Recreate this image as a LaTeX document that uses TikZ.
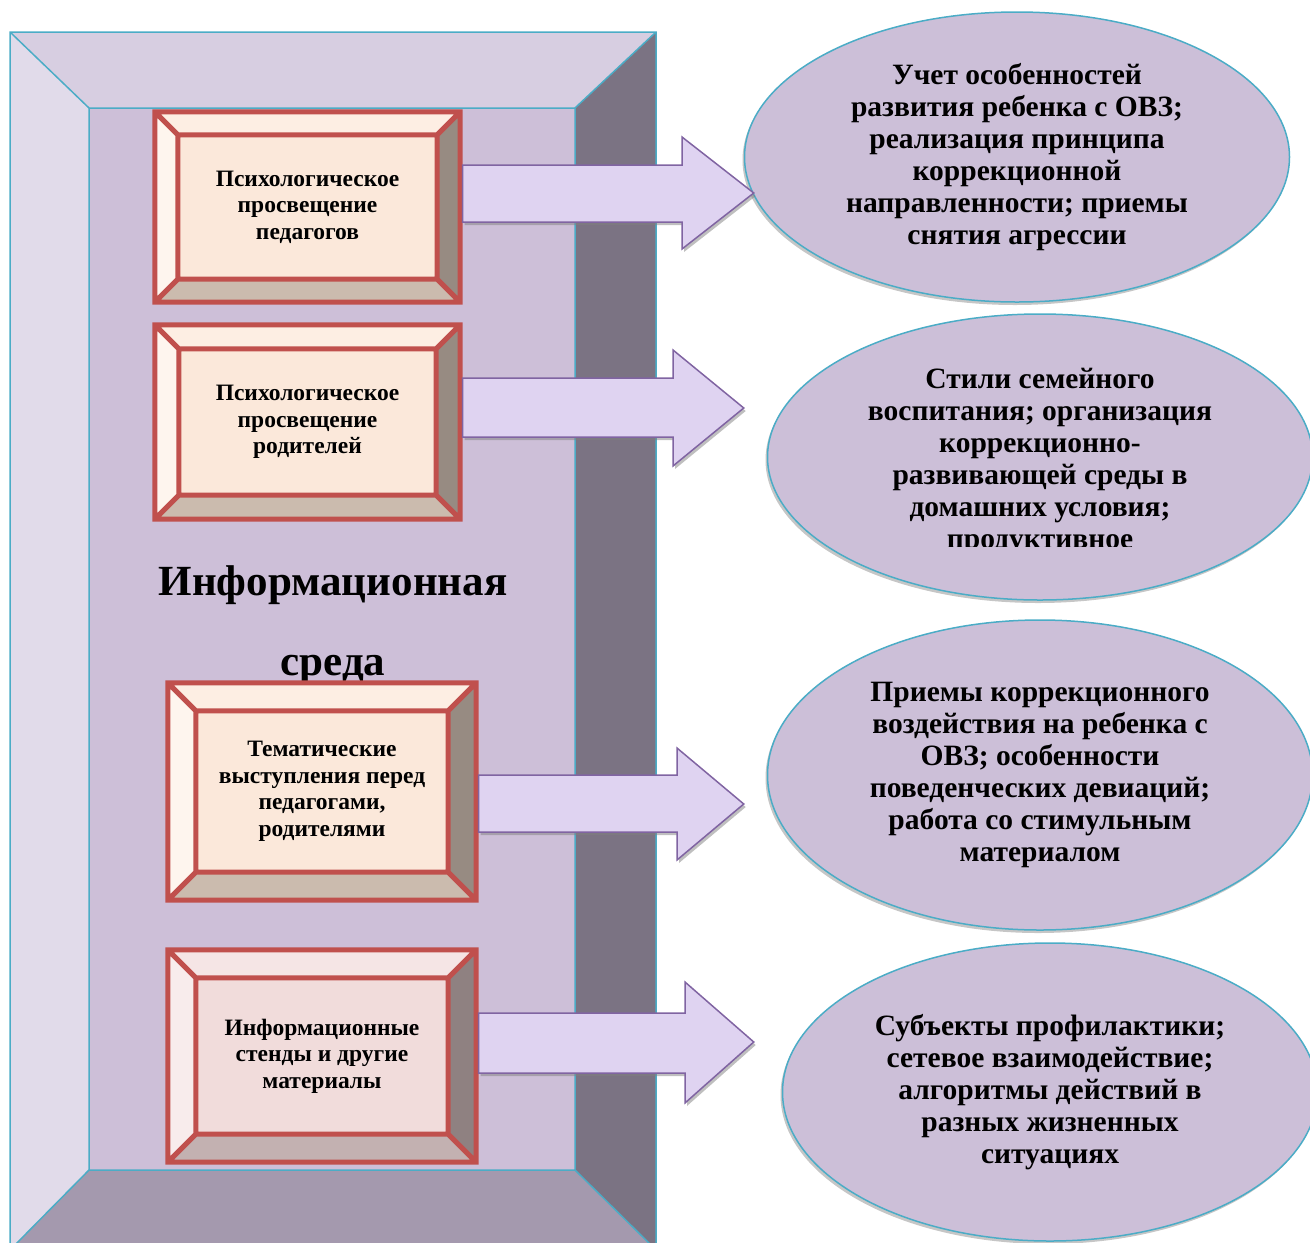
\documentclass[tikz,border=0pt]{standalone}
\usepackage{fontspec}
\setmainfont{Liberation Serif}
\usetikzlibrary{shapes.geometric,shadows,calc}
\definecolor{frameline}{HTML}{4BACC6}
\definecolor{frametop}{HTML}{D7CEE1}
\definecolor{frameleft}{HTML}{E1DBEA}
\definecolor{frameright}{HTML}{7B7383}
\definecolor{framebottom}{HTML}{A499AE}
\definecolor{framemid}{HTML}{CDBFD8}
\definecolor{ovalfill}{HTML}{CCBFD8}
\definecolor{arrowline}{HTML}{8064A2}
\definecolor{arrowfill}{HTML}{DFD3F1}
\definecolor{boxred}{HTML}{C0504D}
\definecolor{boxpC}{HTML}{FBE8DA}
\definecolor{boxpT}{HTML}{FDEEE3}
\definecolor{boxpL}{HTML}{FEF5EE}
\definecolor{boxpR}{HTML}{978B82}
\definecolor{boxpB}{HTML}{CBBBAE}
\definecolor{boxrC}{HTML}{F1DCDB}
\definecolor{boxrT}{HTML}{F5E5E5}
\definecolor{boxrL}{HTML}{F8ECEC}
\definecolor{boxrR}{HTML}{8F8181}
\definecolor{boxrB}{HTML}{C3B1B1}

\begin{document}
\begin{tikzpicture}[x=1pt,y=-1pt]
\tikzstyle{bevel} = [rectangle, inner sep=0pt, align=center, font=\fontsize{23.5}{26.5}\selectfont\bfseries]
\tikzstyle{oval} = [ellipse, draw=frameline, line width=1.5pt, fill=ovalfill, inner sep=0pt, align=center, font=\fontsize{29.5}{32}\selectfont\bfseries, drop shadow={shadow xshift=-2pt, shadow yshift=-3pt, opacity=0.45}]
\tikzstyle{ovaltext} = [align=center, inner sep=0pt, font=\fontsize{29.5}{32}\selectfont\bfseries]
\tikzstyle{blk} = [draw=arrowline, line width=1.5pt, fill=arrowfill, drop shadow={shadow xshift=2pt, shadow yshift=-3pt, opacity=0.5}]
\tikzstyle{redline} = [draw=boxred, line width=5pt]

\useasboundingbox (0,0) rectangle (1310,1243);
\clip (0,0) rectangle (1310,1243);

\fill[frametop] (10,32) -- (656,32) -- (575,108) -- (89,108) -- cycle;
\fill[frameleft] (10,32) -- (89,108) -- (89,1170) -- (10,1250) -- cycle;
\fill[frameright] (656,32) -- (575,108) -- (575,1170) -- (656,1250) -- cycle;
\fill[framebottom] (89,1170) -- (575,1170) -- (656,1250) -- (10,1250) -- cycle;
\fill[framemid] (89,108) rectangle (575,1170);
\draw[frameline, line width=1.5pt] (10,32) rectangle (656,1250) (89,108) rectangle (575,1170)
  (10,32) -- (89,108) (656,32) -- (575,108) (575,1170) -- (656,1250) (89,1170) -- (10,1250);

\node[align=center, font=\fontsize{43}{80}\selectfont\bfseries] (title) at (333,625) {Информационная\\среда};

\foreach \n/\x/\y/\w/\h/\d/\col/\t in {
  b1/307.5/207/305/190/23/boxp/{Психологическое\\просвещение\\педагогов},
  b2/307.5/422/305/194/24/boxp/{Психологическое\\просвещение\\родителей},
  b3/322/791.5/308/217/28/boxp/{Тематические\\выступления перед\\педагогами,\\родителями},
  b4/322/1056/308/212/28/boxr/{Информационные\\стенды и другие\\материалы}}
{
\node[bevel, fill=\col C, minimum width=\w, minimum height=\h] (\n) at (\x,\y) {\t};
\fill[\col T] (\n.north west) -- (\n.north east) -- ([shift={(-\d,\d)}]\n.north east) -- ([shift={(\d,\d)}]\n.north west) -- cycle;
\fill[\col L] (\n.north west) -- ([shift={(\d,\d)}]\n.north west) -- ([shift={(\d,-\d)}]\n.south west) -- (\n.south west) -- cycle;
\fill[\col R] (\n.north east) -- ([shift={(-\d,\d)}]\n.north east) -- ([shift={(-\d,-\d)}]\n.south east) -- (\n.south east) -- cycle;
\fill[\col B] (\n.south west) -- ([shift={(\d,-\d)}]\n.south west) -- ([shift={(-\d,-\d)}]\n.south east) -- (\n.south east) -- cycle;
\draw[redline] (\n.north west) rectangle (\n.south east)
  ([shift={(\d,\d)}]\n.north west) rectangle ([shift={(-\d,-\d)}]\n.south east)
  (\n.north west) -- ([shift={(\d,\d)}]\n.north west)
  (\n.north east) -- ([shift={(-\d,\d)}]\n.north east)
  (\n.south east) -- ([shift={(-\d,-\d)}]\n.south east)
  (\n.south west) -- ([shift={(\d,-\d)}]\n.south west);
}

\node[oval, minimum width=545, minimum height=290] (e1) at (1017,157) {Учет особенностей\\развития ребенка с ОВЗ;\\реализация принципа\\коррекционной\\направленности; приемы\\снятия агрессии};
\node[oval, minimum width=545, minimum height=286] (e2) at (1040,457) {};
\begin{scope}
\clip (790,350) rectangle (1300,546);
\node[ovaltext] (t2) at (1040,462) {Стили семейного\\воспитания; организация\\коррекционно-\\развивающей среды в\\домашних условия;\\продуктивное};
\end{scope}
\node[oval, minimum width=545, minimum height=310] (e3) at (1040,775) {Приемы коррекционного\\воздействия на ребенка с\\ОВЗ; особенности\\поведенческих девиаций;\\работа со стимульным\\материалом};
\node[oval, minimum width=535, minimum height=298] (e4) at (1050,1092) {Субъекты профилактики;\\сетевое взаимодействие;\\алгоритмы действий в\\разных жизненных\\ситуациях};

\foreach \a/\b/\st/\sb/\ht/\hb/\hx/\ty/\dx in {
  b1/e1/165/222/137/249/682/193/10,
  b2/e2/378/437/350/466/673/408/-23,
  b3/e3/775/832/748/860/677/804/-23,
  b4/e4/1013/1073/982/1103/685/1042/-28}
\draw[blk] ([xshift=2.5]\a.east |- 0,\st) -- (\hx,\st) -- (\hx,\ht) -- ([xshift=\dx]\b.west |- 0,\ty)
  -- (\hx,\hb) -- (\hx,\sb) -- ([xshift=2.5]\a.east |- 0,\sb) -- cycle;

\end{tikzpicture}
\end{document}
